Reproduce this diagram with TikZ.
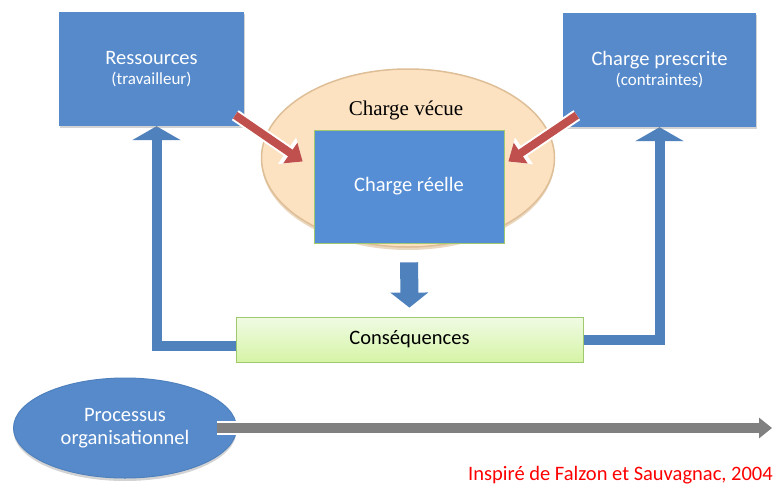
\documentclass[tikz,border=0pt]{standalone}
\usepackage{fontspec}
\setmainfont{Carlito}
\newfontfamily\timesfont{Liberation Serif}
\usetikzlibrary{arrows.meta,shapes.geometric,shadows,backgrounds}
\definecolor{boxblue}{RGB}{86,138,203}
\definecolor{reelblue}{RGB}{85,142,213}
\definecolor{linkblue}{RGB}{79,129,189}
\definecolor{peach}{RGB}{253,226,194}
\definecolor{peachedge}{RGB}{222,190,150}
\definecolor{arrowred}{RGB}{192,80,77}
\definecolor{timegray}{RGB}{128,128,128}
\definecolor{greentop}{RGB}{240,251,228}
\definecolor{greenbot}{RGB}{214,244,166}
\definecolor{greenline}{RGB}{160,200,110}
\tikzstyle {top box} = [rectangle, fill=boxblue, text=white, minimum height=114pt,
    align=center, font=\fontsize{20.5}{24}\selectfont,
    drop shadow={shadow xshift=1pt, shadow yshift=-2pt, opacity=0.35}]
\tikzstyle {reel box} = [rectangle, fill=reelblue, draw=greenline, line width=0.6pt, text=white,
    minimum width=190pt, minimum height=113pt, font=\fontsize{20.5}{24}\selectfont]
\tikzstyle {vecue ellipse} = [ellipse, fill=peach, draw=peachedge, line width=1.5pt,
    minimum width=293pt, minimum height=178pt,
    drop shadow={shadow xshift=0pt, shadow yshift=-3pt, fill=peachedge, opacity=0.6}]
\tikzstyle {proc ellipse} = [ellipse, fill=boxblue, draw=linkblue, line width=1pt, text=white,
    minimum width=223pt, minimum height=100pt, align=center, font=\fontsize{20.5}{23}\selectfont,
    drop shadow={shadow xshift=0pt, shadow yshift=-3pt, opacity=0.35}]
\tikzstyle {cons box} = [rectangle, top color=greentop, bottom color=greenbot, draw=greenline,
    line width=0.8pt, minimum width=347pt, minimum height=45pt, font=\fontsize{20.5}{24}\selectfont]
\tikzset{link/.style = {draw=linkblue, line width=10pt, -{Triangle[length=14pt,width=48pt]}}}
\tikzset{red arrow/.style = {draw=arrowred, line width=8pt, -{Triangle[length=15pt,width=24pt]},
    preaction={draw=white, line width=12pt, -{Triangle[length=19pt,width=31pt]}}}}
\tikzset{down arrow/.style = {draw=linkblue, line width=18pt, -{Triangle[length=15pt,width=37pt]},
    shorten <=19pt, shorten >=9pt}}
\tikzset{time arrow/.style = {draw=timegray, line width=10pt, -{Triangle[length=13pt,width=20pt]},
    preaction={draw=white, line width=14pt, -{Triangle[length=16pt,width=25pt]}}}}

\begin{document}
\begin{tikzpicture}[x=1pt,y=-1pt]
    \useasboundingbox (0,0) rectangle (775,485);
    \node[vecue ellipse] (vecue) at (408,158) {};
    \node[font=\timesfont\fontsize{21}{24}\selectfont] (vecuelabel) at (406,110) {Charge vécue};
    \node[reel box] (reel) at (409,186.5) {Charge réelle};
    \node[top box, minimum width=185pt] (res) at (151.5,69) {Ressources\\[-4pt]{\fontsize{17}{20}\selectfont (travailleur)}};
    \node[top box, minimum width=193pt] (cp) at (659.5,70) {Charge prescrite\\[-4pt]{\fontsize{17}{20}\selectfont (contraintes)}};
    \node[cons box] (cons) at (409.5,339.5) {Conséquences};
    \begin{scope}[on background layer]
        \draw[link] ([shift={(0,6)}]cons.west) -| ([shift={(5,0)}]res.south);
        \draw[link] (cons.east) -| (cp.south);
    \end{scope}
    \draw[down arrow] (reel.south) -- (cons.north);
    \draw[red arrow] ([shift={(-9,-11)}]res.south east) -- ([shift={(-11,-25)}]reel.west);
    \draw[red arrow] ([shift={(14,-12)}]cp.south west) -- ([shift={(4,-25)}]reel.east);
    \node[proc ellipse] (proc) at (125,428) {Processus\\organisationnel};
    \coordinate (timeend) at (772,428);
    \draw[time arrow] ([shift={(-20,0)}]proc.east) -- (timeend);
    \node[anchor=base east, inner sep=0pt, text=red, font=\fontsize{20.5}{24}\selectfont] (source) at (773,480) {Inspiré de Falzon et Sauvagnac, 2004};
\end{tikzpicture}
\end{document}
